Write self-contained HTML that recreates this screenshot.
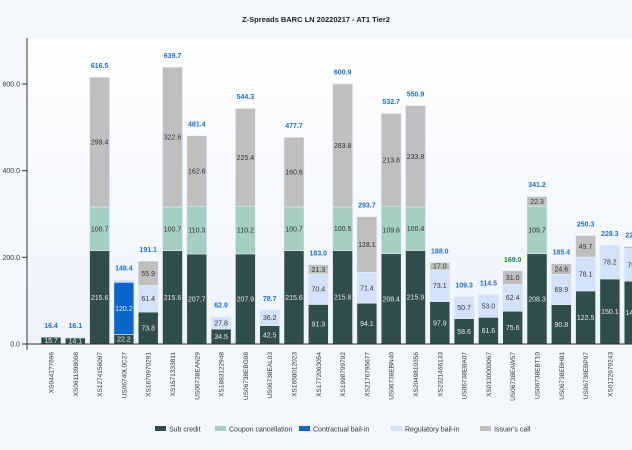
<!DOCTYPE html>
<html><head><meta charset="utf-8">
<style>
html,body{margin:0;padding:0;width:632px;height:450px;overflow:hidden;background:#f4f8fc;font-family:"Liberation Sans",sans-serif;}
svg{display:block}
</style></head>
<body>
<svg id="chart" width="632" height="450" xmlns="http://www.w3.org/2000/svg">
<defs><linearGradient id="pg" x1="0" y1="0" x2="0" y2="1"><stop offset="0" stop-color="#ffffff"/><stop offset="1" stop-color="#eef3fb"/></linearGradient>
<clipPath id="pc"><rect x="27" y="38" width="605" height="320"/></clipPath></defs>
<rect x="0" y="0" width="632" height="450" fill="#f4f8fc"/>
<rect x="27" y="38" width="605" height="306" fill="url(#pg)"/>
<text x="316" y="22" text-anchor="middle" font-size="7.5" font-weight="bold" fill="#222">Z-Spreads BARC LN 20220217 - AT1 Tier2</text>
<g id="bars" clip-path="url(#pc)"></g>
<g id="axes"></g>
<g id="legend"></g>
</svg>
<script>
const categories=["XS0441?7696","XS0611398008","XS1274156097","US06740L0C27","XS1670970291","XS1571333811","US06738EAN29","XS1883122948","US06738EBG98","US06738EAL03","XS1658012023","XS1772063054","XS1998799792","XS2176795677","US06738EBN40","XS2049810356","XS2321466133","US06738EBA07","XS0130000067","US06738EAW57","US06738EBT10","US06738EBH81","US06738EBP97","XS0122679243","XS2342732646"];
const subCredit=[15.7,14.1,215.6,22.2,73.8,215.6,207.7,34.5,207.9,42.5,215.6,91.3,215.8,94.1,208.4,215.9,97.9,58.6,61.6,75.6,208.3,90.8,122.5,150.1,145.0];
const couponCancel=[0,0,100.7,0,0,100.7,110.3,0,110.2,0,100.7,0,100.5,0,109.6,100.4,0,0,0,0,109.7,0,0,0,0];
const contractual=[0,0,0,120.2,0,0,0,0,0,0,0,0,0,0,0,0,0,0,0,0,0,0,0,0,0];
const regulatory=[0.7,2.0,0,6.1,61.4,0,0,27.8,0,36.2,0,70.4,0,71.4,0,0,73.1,50.7,53.0,62.4,0,69.9,78.1,78.2,75.0];
const issuerCall=[0,0,299.4,0,55.9,322.6,162.6,0,225.4,0,160.6,21.3,283.8,128.1,213.8,233.8,17.0,0,0,31.0,22.3,24.6,49.7,0,5.0];
const totals=[16.4,16.1,616.5,148.4,191.1,639.7,481.4,62.9,544.3,78.7,477.7,183.0,600.9,293.7,532.7,550.9,188.0,109.3,114.5,169.0,341.2,185.4,250.3,228.3,225.0];
const yTicks=[0,200,400,600];
const seriesNames=["Sub credit","Coupon cancellation","Contractual bail-in","Regulatory bail-in","Issuer's call"];
const seriesColors=["#2f4d4d","#a5cfc2","#0a66cc","#d4e2f9","#bfbfbf"];
const seriesText=["#e8e8e8","#333","#e8f0ff","#333","#333"];
const series=[subCredit,couponCancel,contractual,regulatory,issuerCall];

const NS="http://www.w3.org/2000/svg";
const y0=344, pxPer=260/600, x0=51, step=24.3, bw=20;
function yS(v){return y0-v*pxPer;}
function xS(i){return x0+i*step;}
function mk(tag,attrs,parent){const e=document.createElementNS(NS,tag);for(const k in attrs)e.setAttribute(k,attrs[k]);parent.appendChild(e);return e;}
const gb=document.getElementById('bars'), ga=document.getElementById('axes'), gl=document.getElementById('legend');

categories.forEach((c,i)=>{
  let base=0;
  series.forEach((s,si)=>{
    const v=s[i]; if(!v) return;
    const r=mk('rect',{x:xS(i)-bw/2,y:yS(base+v),width:bw,height:v*pxPer,fill:seriesColors[si],stroke:'#e6eef8','stroke-width':0.6},gb);
    
    
    if(v*pxPer>6){
      const t=mk('text',{x:xS(i),y:yS(base+v/2)+2.5,'text-anchor':'middle','font-size':7,fill:seriesText[si]},gb);
      t.textContent=v.toFixed(1);
      
      
    }
    base+=v;
  });
  const tt=mk('text',{x:xS(i),y:yS(totals[i])-9,'text-anchor':'middle','font-size':7,'font-weight':'bold',fill:'#1a6fd6'},gb);
  tt.textContent=totals[i].toFixed(1);
  
  
  const lx=xS(i)+2.5;
  const xl=mk('text',{x:lx,y:352,'text-anchor':'end','font-size':6.5,fill:'#333',transform:'rotate(-90 '+lx+' 352)'},ga);
  xl.textContent=c;
  
  
});
const ax=mk('line',{x1:27,y1:38,x2:27,y2:350,stroke:'#333','stroke-width':1},ga);


const xa=mk('line',{x1:22,y1:y0,x2:632,y2:y0,stroke:'#333','stroke-width':1},ga);


yTicks.forEach(v=>{
  mk('line',{x1:22,y1:yS(v),x2:27,y2:yS(v),stroke:'#333'},ga);
  const t=mk('text',{x:20,y:yS(v)+2.5,'text-anchor':'end','font-size':7,fill:'#333'},ga);
  t.textContent=v.toFixed(1);
  
  
});
const lw=[36,60,68,65,50];
let lxp=155;
seriesNames.forEach((n,i)=>{
  const g=mk('g',{},gl);
  
  
  mk('rect',{x:lxp,y:426,width:11,height:5,fill:seriesColors[i]},g);
  const t=mk('text',{x:lxp+14,y:431.5,'font-size':7,fill:'#333'},g);
  t.textContent=n;
  lxp+=14+lw[i]+10;
});
</script>
</body></html>
